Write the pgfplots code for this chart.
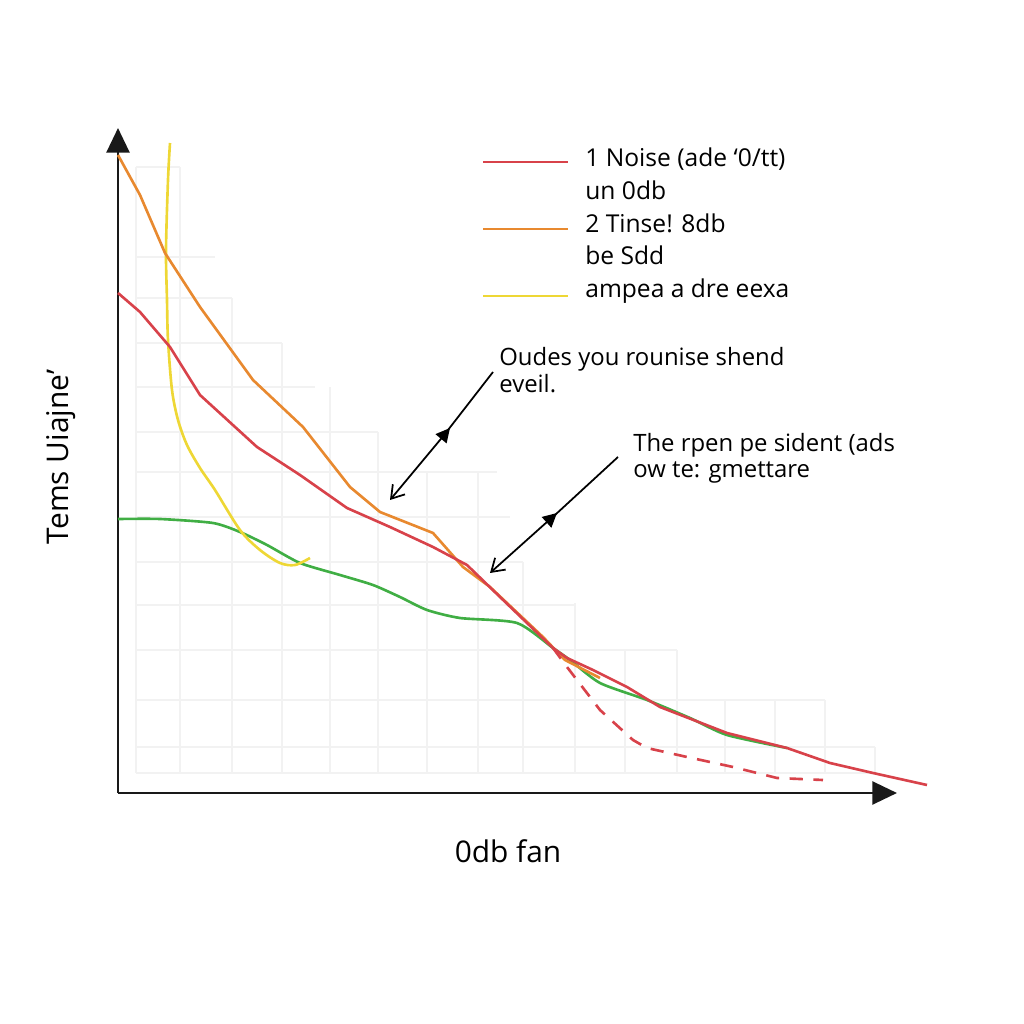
\documentclass[border=0pt]{standalone}
\usepackage{pgfplots}
\pgfplotsset{compat=1.18}
\usetikzlibrary{arrows.meta}
\usepackage{fontspec}
\setmainfont{Open Sans}
\definecolor{cred}{HTML}{D8424A}
\definecolor{corange}{HTML}{E8892F}
\definecolor{cyellow}{HTML}{EED735}
\definecolor{cgreen}{HTML}{40AE44}
\definecolor{cgrid}{HTML}{F2F2F2}
\begin{document}
\begin{tikzpicture}
\begin{axis}[
  x=0.02cm, y=0.02cm,
  xmin=0, xmax=779, ymin=0, ymax=665,
  axis lines=left,
  xtick=\empty, ytick=\empty,
  clip=false,
  axis line style={line width=1.6pt, black!90, -{Triangle[length=14pt,width=13pt]}},
]
% staircase grid
\draw[cgrid, line width=0.6pt]
  (18,626) -- (62,626)
  (18,536) -- (97,536)
  (18,495) -- (114,495)
  (18,450) -- (164,450)
  (18,406) -- (197,406)
  (18,361) -- (260,361)
  (18,321) -- (379,321)
  (18,276) -- (392,276)
  (18,231) -- (405,231)
  (18,188) -- (457,188)
  (18,143) -- (559,143)
  (18,93) -- (707,93)
  (18,46) -- (757,46)
  (18,20) -- (757,20)
  (18,626) -- (18,20)
  (62,626) -- (62,20)
  (114,495) -- (114,20)
  (164,450) -- (164,20)
  (212,406) -- (212,20)
  (260,361) -- (260,20)
  (309,321) -- (309,20)
  (360,321) -- (360,20)
  (405,231) -- (405,20)
  (457,190) -- (457,20)
  (507,143) -- (507,20)
  (559,143) -- (559,20)
  (607,93) -- (607,20)
  (657,93) -- (657,20)
  (707,93) -- (707,20)
  (757,46) -- (757,20);

% green
\addplot[cgreen, line width=1.5pt, smooth, tension=0.4] coordinates {
 (0,274) (42,274) (95,270) (122,261) (149,248) (182,230) (222,218) (255,208)
 (282,196) (309,183) (342,175) (399,170) (435,145) (452,133) (482,110)
 (529,93) (572,75) (609,58) (669,45)
};
% yellow
\addplot[cyellow, line width=1.5pt, smooth, tension=0.5] coordinates {
 (52,650) (50,613) (48,543) (49,493) (50,453) (54,403) (60,373) (69,348)
 (82,325) (97,303) (122,263) (142,243) (162,230) (177,228) (192,235)
};
% orange
\addplot[corange, line width=1.5pt] coordinates {
 (0,638) (22,598) (47,540) (82,486) (135,413) (185,366) (232,306) (262,281)
 (315,260) (345,226) (372,206) (425,156) (447,133) (482,115)
};
% red dashed
\addplot[cred, line width=1.5pt, dash pattern=on 7.5pt off 6pt] coordinates {
 (435,145) (449,126) (482,83) (515,53) (529,45) (569,36) (615,26) (659,15) (705,13)
};
% red
\addplot[cred, line width=1.5pt] coordinates {
 (0,500) (22,481) (52,446) (82,398) (139,346) (182,318) (229,285) (272,266)
 (315,246) (349,228) (382,196) (435,145) (449,135) (475,123) (509,106)
 (542,86) (609,60) (669,45) (712,30) (755,20) (809,8)
};

% legend
\draw[cred, line width=1.5pt] (365,631) -- (450,631);
\draw[corange, line width=1.5pt] (365,564) -- (450,564);
\draw[cyellow, line width=1.5pt] (365,497) -- (450,497);
\node[anchor=base west, inner sep=0pt, font=\fontsize{14}{16}\selectfont] at (467,626) {1 Noise (ade ‘0/tt)};
\node[anchor=base west, inner sep=0pt, font=\fontsize{14}{16}\selectfont] at (467,593) {un 0db};
\node[anchor=base west, inner sep=0pt, font=\fontsize{14}{16}\selectfont] at (467,560) {2 Tinse! 8db};
\node[anchor=base west, inner sep=0pt, font=\fontsize{14}{16}\selectfont] at (467,528) {be Sdd};
\node[anchor=base west, inner sep=0pt, font=\fontsize{14}{16}\selectfont] at (467,495) {ampea a dre eexa};

% annotations
\node[anchor=base west, inner sep=0pt, font=\fontsize{13.6}{16}\selectfont] at (381,427) {Oudes you rounise shend};
\node[anchor=base west, inner sep=0pt, font=\fontsize{13.6}{16}\selectfont] at (381,400) {eveil.};
\node[anchor=base west, inner sep=0pt, font=\fontsize{13.6}{16}\selectfont] at (515,341) {The rpen pe sident (ads};
\node[anchor=base west, inner sep=0pt, font=\fontsize{13.6}{16}\selectfont] at (515,315) {ow te: gmettare};

\draw[line width=1pt, {Straight Barb[length=7pt,width=9pt]}-{Triangle[length=8pt,width=8pt]}] (272,293) -- (332,365);
\draw[line width=1pt] (330,363) -- (375,421);
\draw[line width=1pt, {Straight Barb[length=7pt,width=9pt]}-{Triangle[length=8pt,width=8pt]}] (372,220) -- (439,280);
\draw[line width=1pt] (437,278) -- (500,336);

% axis labels
\node[anchor=base, inner sep=0pt, font=\fontsize{17}{19}\selectfont] at (390,-69) {0db fan};
\node[anchor=base, rotate=90, inner sep=0pt, font=\fontsize{17}{20}\selectfont] at (-49,336) {Tems Uiajne’};

\coordinate (bbsw) at (-118,-231);
\coordinate (bbne) at (906,793);
\end{axis}
\pgfresetboundingbox
\path[use as bounding box] (bbsw) rectangle (bbne);
\end{tikzpicture}
\end{document}
